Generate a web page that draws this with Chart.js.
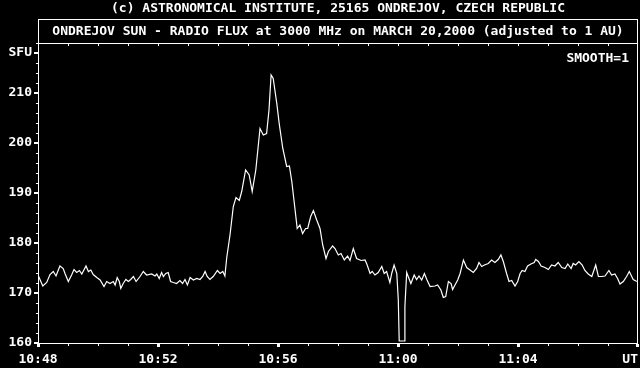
<!DOCTYPE html>
<html>
<head>
<meta charset="utf-8">
<script src="https://cdn.jsdelivr.net/npm/chart.js@4/dist/chart.umd.min.js"></script>
<style>
  html, body { margin: 0; padding: 0; background: #000; }
  #wrap { width: 640px; height: 368px; }
</style>
</head>
<body>
<div id="wrap"><canvas id="c" width="640" height="368"></canvas></div>
<script>
// ---- data (minutes after 10:48 UT, flux in SFU) ----
const minutes = [
  0.00,0.16,0.29,0.40,0.51,0.60,0.73,0.84,0.90,1.01,1.12,1.20,1.29,1.38,1.46,1.60,1.68,1.76,1.84,1.96,
  2.07,2.20,2.29,2.40,2.51,2.57,2.64,2.71,2.76,2.84,2.93,3.01,3.09,3.18,3.27,3.40,3.51,3.62,3.79,3.90,
  3.96,4.04,4.12,4.18,4.26,4.34,4.42,4.51,4.62,4.73,4.82,4.90,4.98,5.07,5.18,5.29,5.40,5.49,5.57,5.64,
  5.73,5.84,5.98,6.07,6.16,6.23,6.29,6.40,6.51,6.60,6.71,6.79,6.92,7.04,7.14,7.26,7.40,7.51,7.62,7.70,
  7.77,7.84,7.96,8.04,8.16,8.29,8.38,8.46,8.57,8.64,8.73,8.82,8.92,8.99,9.09,9.18,9.29,9.40,9.49,9.60,
  9.68,9.82,9.90,10.01,10.10,10.21,10.32,10.40,10.51,10.62,10.77,10.90,10.96,11.07,11.14,11.23,11.34,11.46,11.54,11.62,
  11.73,11.79,11.87,11.96,12.01,12.04,12.20,12.23,12.29,12.34,12.43,12.54,12.62,12.70,12.79,12.88,12.96,13.07,13.23,13.32,
  13.43,13.51,13.59,13.68,13.77,13.82,13.90,13.99,14.07,14.18,14.29,14.40,14.51,14.62,14.70,14.79,14.88,15.01,15.12,15.23,
  15.34,15.43,15.51,15.62,15.70,15.79,15.90,15.99,16.07,16.14,16.23,16.32,16.43,16.54,16.59,16.68,16.77,16.90,17.01,17.12,
  17.23,17.34,17.46,17.57,17.66,17.77,17.84,17.92,18.03,18.14,18.23,18.34,18.46,18.59,18.68,18.79,18.90,19.03,19.12,19.23,
  19.32,19.40,19.51,19.62,19.71,19.84,19.96
];
const flux = [
  173.6,171.4,172.1,173.7,174.3,173.4,175.4,174.9,173.9,172.3,173.6,174.7,174.1,174.5,173.8,175.4,174.3,174.6,173.7,173.1,
  172.6,171.3,172.3,171.9,172.3,171.6,173.1,172.3,170.9,171.9,172.7,172.3,172.7,173.3,172.3,173.3,174.3,173.6,173.8,173.4,
  173.8,172.9,174.1,173.3,173.9,174.1,172.3,172.1,171.9,172.5,171.9,172.7,171.6,173.1,172.6,172.9,172.7,173.3,174.3,173.3,
  172.7,173.3,174.5,173.9,174.3,173.4,177.0,181.6,187.3,189.1,188.5,190.3,194.6,193.6,190.3,194.6,202.9,201.6,201.9,206.6,
  213.6,212.9,207.9,203.9,198.9,195.3,195.4,192.3,186.6,182.9,183.6,181.9,182.9,182.9,185.3,186.5,184.6,182.9,179.6,176.9,
  178.3,179.4,178.9,177.6,177.9,176.6,177.4,176.5,178.9,176.9,176.5,176.6,175.8,173.9,174.3,173.6,174.1,175.3,173.9,174.3,
  172.1,173.9,175.6,173.9,168.6,160.4,160.4,167.3,174.1,173.3,171.9,173.6,172.7,173.4,172.6,173.9,172.7,171.3,171.4,171.6,
  170.6,169.1,169.3,172.3,171.9,170.7,171.6,172.6,173.9,176.6,175.1,174.6,174.1,174.9,176.1,175.3,175.6,175.9,176.6,176.1,
  176.7,177.6,176.3,173.9,172.3,172.5,171.4,172.3,173.9,174.5,174.3,175.4,175.8,176.1,176.7,176.3,175.4,175.1,174.7,175.6,
  175.4,176.1,175.1,174.9,175.8,174.9,175.9,175.6,176.3,175.6,174.5,173.8,173.3,175.6,173.3,173.3,173.4,174.5,173.6,173.8,
  172.9,171.8,172.3,173.3,174.3,172.7,172.3
];

// ---- tick labels ----
const xLabelMinutes = [0, 4, 8, 12, 16, 20];
const xLabels = ['10:48', '10:52', '10:56', '11:00', '11:04', 'UT  '];
const yLabelValues = [160, 170, 180, 190, 200, 210, 218];
const yLabels = ['160', '170', '180', '190', '200', '210', 'SFU'];

const titleText = '(c) ASTRONOMICAL INSTITUTE, 25165 ONDREJOV, CZECH REPUBLIC';
const subtitleText = 'ONDREJOV SUN - RADIO FLUX at 3000 MHz on MARCH 20,2000 (adjusted to 1 AU)';
const smoothText = 'SMOOTH=1';

const FONT_FAMILY = '"DejaVu Sans Mono", "Liberation Mono", monospace';
const fontSpec = { family: FONT_FAMILY, size: 13, weight: 'bold', lineHeight: 16 / 13 };

const points = minutes.map((m, i) => ({ x: m, y: flux[i] }));

const framePlugin = {
  id: 'frame',
  beforeDraw(chart) {
    const ctx = chart.ctx;
    ctx.save();
    ctx.fillStyle = '#000';
    ctx.fillRect(0, 0, chart.width, chart.height);
    ctx.restore();
  },
  afterDraw(chart) {
    const ctx = chart.ctx;
    const a = chart.chartArea;
    const xs = chart.scales.x, ys = chart.scales.y;
    const L = Math.round(a.left), T = Math.round(a.top), B = Math.round(a.bottom);
    const R = Math.round(a.right) - 1;
    ctx.save();
    ctx.fillStyle = '#fff';
    // plot frame
    ctx.fillRect(L, T, R - L + 1, 1);
    ctx.fillRect(L, B, R - L + 1, 1);
    ctx.fillRect(L, 19, 1, B - 19 + 1);
    ctx.fillRect(R, 19, 1, B - 19 + 1);
    // title box top
    ctx.fillRect(L, 19, R - L + 1, 1);
    // y ticks
    for (let v = 160; v <= 220; v += 2) {
      const py = Math.round(ys.getPixelForValue(v));
      if (yLabelValues.includes(v)) ctx.fillRect(L - 4, py - 1, 4, 2);
      else ctx.fillRect(L - 2, py, 2, 1);
    }
    // x ticks
    for (let m = 0; m <= 20; m += 1) {
      let px = Math.round(xs.getPixelForValue(m));
      if (px > R) px = R;
      if (m % 4 === 0) ctx.fillRect(px - 1, B + 1, 3, 3);
      else ctx.fillRect(px, B + 1, 1, 2);
      if (m > 0 && m < 20) ctx.fillRect(px, T + 1, 1, 2);
    }
    // smooth label
    ctx.font = 'bold 13px ' + FONT_FAMILY;
    ctx.textAlign = 'right';
    ctx.textBaseline = 'middle';
    ctx.fillText(smoothText, 629, 59);
    ctx.restore();
  }
};

new Chart(document.getElementById('c'), {
  type: 'line',
  data: {
    datasets: [{
      data: points,
      borderColor: '#ffffff',
      borderWidth: 1.2,
      pointRadius: 0,
      tension: 0,
      fill: false
    }]
  },
  options: {
    responsive: false,
    animation: false,
    events: [],
    layout: { padding: { left: 0, right: 2, top: 0, bottom: 0 } },
    plugins: {
      legend: { display: false },
      tooltip: { enabled: false },
      title: {
        display: true, text: titleText, color: '#fff', fullSize: false,
        font: fontSpec, padding: { top: 1, bottom: 2 }
      },
      subtitle: {
        display: true, text: subtitleText, color: '#fff', fullSize: false,
        font: fontSpec, padding: { top: 5, bottom: 3 }
      }
    },
    scales: {
      x: {
        type: 'linear', min: 0, max: 20,
        grid: { display: false, drawTicks: false },
        border: { display: false },
        afterBuildTicks(scale) { scale.ticks = xLabelMinutes.map(v => ({ value: v })); },
        afterFit(scale) { scale.height = 25; scale.paddingLeft = 0; scale.paddingRight = 0; },
        ticks: {
          autoSkip: false, maxRotation: 0, color: '#fff', font: fontSpec, padding: 9,
          callback: (v) => { const i = xLabelMinutes.indexOf(v); return i >= 0 ? xLabels[i] : ''; }
        }
      },
      y: {
        type: 'linear', min: 160, max: 220,
        grid: { display: false, drawTicks: false },
        border: { display: false },
        afterBuildTicks(scale) { scale.ticks = yLabelValues.map(v => ({ value: v })); },
        afterFit(scale) { scale.width = 38; scale.paddingTop = 0; scale.paddingBottom = 0; },
        ticks: {
          autoSkip: false, color: '#fff', font: fontSpec, padding: 6,
          callback: (v) => { const i = yLabelValues.indexOf(v); return i >= 0 ? yLabels[i] : ''; }
        }
      }
    }
  },
  plugins: [framePlugin]
});
</script>
</body>
</html>
